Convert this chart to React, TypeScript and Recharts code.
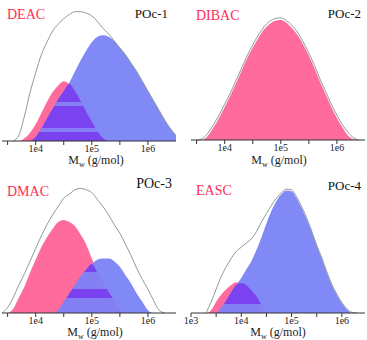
import { ComposedChart, Area, Line, XAxis, YAxis } from "recharts";

// log10(Mw) sample points
const LOG_A = [3.4, 3.5, 3.6, 3.7, 3.8, 3.9, 4.0, 4.1, 4.2, 4.3, 4.4, 4.5, 4.6, 4.7, 4.8, 4.9, 5.0, 5.1, 5.2, 5.3, 5.4, 5.5, 5.6, 5.7, 5.8, 5.9, 6.0, 6.1, 6.2, 6.3, 6.4, 6.5];
const LOG_B = [3.0, 3.1, 3.2, 3.3, 3.4, 3.5, 3.6, 3.7, 3.8, 3.9, 4.0, 4.1, 4.2, 4.3, 4.4, 4.5, 4.6, 4.7, 4.8, 4.9, 5.0, 5.1, 5.2, 5.3, 5.4, 5.5, 5.6, 5.7, 5.8, 5.9, 6.0, 6.1, 6.2, 6.3, 6.4];

// POc-1 (DEAC)
const grey1 = [null, null, 0, 4, 18, 35, 49, 62, 71, 79, 84, 88, 91, 93, 93, 92, 90, 86, 81, 77, 72, 67, 62, 56, 50, 43, 36, 29, 22, 15, 9, 4];
const pink1 = [0, 0, 0, 0, 2, 6, 12, 20, 28, 35, 40, 43, 41, 36, 29, 21, 14, 7, 2, 0, 0, 0, 0, 0, 0, 0, 0, 0, 0, 0, 0, 0];
const blue1 = [0, 0, 0, 0, 0, 0, 3, 9, 16, 23, 30, 36, 42, 50, 58, 65, 71, 75, 76, 75, 72, 67, 62, 56, 50, 43, 36, 29, 22, 15, 9, 4];

// POc-2 (DIBAC)
const grey2 = [null, 0, 1, 5, 11, 18, 26, 34, 43, 52, 61, 69, 76, 82, 86, 88, 88.5, 86.5, 83, 78, 71, 63, 54, 44, 35, 26, 18, 11, 5.5, 1.5, 0, null];
const pink2 = [0, 0, 0, 3, 9, 16, 24, 32, 41, 50, 59, 67, 74, 80, 84, 86.5, 87, 85, 81, 76, 69, 61, 52, 42, 33, 24, 16, 9, 3, 0.5, 0, 0];

// POc-3 (DMAC)
const grey3 = [0, 4, 11, 20, 28, 37, 46, 55, 63, 70, 76, 82, 85, 88, 89, 88, 86, 81, 76, 70, 63, 57, 49, 41, 32, 24, 17, 9, 2, 0, null, null];
const pink3 = [0, 0, 3, 11, 19, 29, 38, 47, 54, 60, 65, 66.5, 65, 62, 56, 49, 39, 29, 22, 15, 9, 3, 0, 0, 0, 0, 0, 0, 0, 0, 0, 0];
const blue3 = [0, 0, 0, 0, 0, 0, 0, 0, 0, 0, 2, 8, 14, 20, 26, 31, 35, 38, 39, 39, 37, 33, 27, 21, 14, 8, 2, 0, 0, 0, 0, 0];

// POc-4 (EASC)
const grey4 = [null, null, null, 0, 8, 17, 26, 33, 39, 44, 47, 50, 53, 58, 65, 71, 77, 82, 86, 88.5, 88, 83, 76, 68, 58.5, 48.5, 39.5, 29.5, 20.5, 13.5, 7.5, 3, 0.5, 0, null];
const pink4 = [0, 0, 0, 0, 2, 8, 13, 17, 20, 22, 21.5, 20, 16, 12, 6, 1, 0, 0, 0, 0, 0, 0, 0, 0, 0, 0, 0, 0, 0, 0, 0, 0, 0, 0, 0];
const blue4 = [0, 0, 0, 0, 0, 0, 4, 9, 15, 20, 25, 31, 37, 45, 54, 64, 73, 80, 85, 87.5, 87, 82, 75, 67, 58, 48, 39, 29, 20, 13, 7, 2.5, 0, 0, 0];

const TICKS_A = [10 ** 3.5, 1e4, 10 ** 4.5, 1e5, 10 ** 5.5, 1e6];
const TICKS_B = [1e3, 10 ** 3.5, 1e4, 10 ** 4.5, 1e5, 10 ** 5.5, 1e6];
const DOMAIN_A = [10 ** 3.4, 10 ** 6.5];
const DOMAIN_B = [1e3, 10 ** 6.46];

const SERIF = "'Liberation Serif', 'DejaVu Serif', serif";
const PINK = "#ff6b9d";
const BLUE = "#8089f5";
const VIOLET = "#7b42ef";
const LIGHT = "#8480f3";
const GREY = "#8c9c9c";
const RED = "#ff2d55";

// horizontal bands seen inside the overlap region, [from, to] as fraction of its height
const bands1 = [[0, 0.32], [0.39, 0.77], [0.84, 1]];
const bands3 = [[0, 0.17], [0.52, 0.69]];
const bands4 = [[0, 0.71]];

function buildRows(logs: number[], grey: (number | null)[], pink: number[], blue?: number[]) {
  return logs.map((lg, i) => ({
    m: Math.pow(10, lg),
    grey: grey[i],
    pink: pink[i],
    blue: blue ? blue[i] : null,
    both: blue ? Math.min(pink[i], blue[i]) : null,
  }));
}

const fmtTick = (v: number) => {
  const e = Math.log10(v);
  return Math.abs(e - Math.round(e)) < 0.01 ? `1e${Math.round(e)}` : "";
};

function Panel({ id, left, top, width, margin, axisH, domain, ticks, rows, bands }: any) {
  const stops: any[] = [];
  if (bands) {
    let prev = 0;
    bands.forEach(([a, b]: number[], i: number) => {
      stops.push(<stop key={`l${i}a`} offset={prev} stopColor={LIGHT} />);
      stops.push(<stop key={`l${i}b`} offset={a} stopColor={LIGHT} />);
      stops.push(<stop key={`v${i}a`} offset={a} stopColor={VIOLET} />);
      stops.push(<stop key={`v${i}b`} offset={b} stopColor={VIOLET} />);
      prev = b;
    });
    stops.push(<stop key="end1" offset={prev} stopColor={LIGHT} />);
    stops.push(<stop key="end2" offset={1} stopColor={LIGHT} />);
  }
  return (
    <div style={{ position: "absolute", left, top }}>
      <ComposedChart width={width} height={170} data={rows} margin={margin}>
        <defs>
          <linearGradient id={`ov${id}`} x1="0" y1="0" x2="0" y2="1">
            {stops}
          </linearGradient>
        </defs>
        <XAxis
          dataKey="m"
          type="number"
          scale="log"
          domain={domain}
          allowDataOverflow
          ticks={ticks}
          interval={0}
          tickFormatter={fmtTick}
          height={axisH}
          tickSize={4}
          tickMargin={0}
          stroke="#333"
          tick={{ fontSize: 10, fill: "#222", fontFamily: SERIF, style: { fontFamily: SERIF } }}
        />
        <XAxis
          xAxisId="top"
          orientation="top"
          dataKey="m"
          type="number"
          scale="log"
          domain={domain}
          allowDataOverflow
          height={0}
          tick={false}
          tickLine={false}
          stroke="#666"
        />
        <YAxis domain={[0, 100]} width={0} tick={false} tickLine={false} stroke="#666" />
        <YAxis yAxisId="r" orientation="right" domain={[0, 100]} width={0} tick={false} tickLine={false} stroke="#666" />
        <Area dataKey="pink" type="monotone" fill={PINK} fillOpacity={1} stroke="none" isAnimationActive={false} />
        {bands && (
          <Area dataKey="blue" type="monotone" fill={BLUE} fillOpacity={1} stroke="none" isAnimationActive={false} />
        )}
        {bands && (
          <Area dataKey="both" type="monotone" fill={`url(#ov${id})`} fillOpacity={1} stroke="none" isAnimationActive={false} />
        )}
        <Line dataKey="grey" type="monotone" stroke={GREY} strokeWidth={1} dot={false} isAnimationActive={false} />
      </ComposedChart>
    </div>
  );
}

const txt = { fontFamily: SERIF };

function Title({ x, y }: { x: number; y: number }) {
  return (
    <text x={x} y={y} textAnchor="middle" fontSize={12} fill="#222" style={txt}>
      M<tspan fontSize={8} dy={3}>w</tspan>
      <tspan dy={-3}> (g/mol)</tspan>
    </text>
  );
}

export default function App() {
  const rows1 = buildRows(LOG_A, grey1, pink1, blue1);
  const rows2 = buildRows(LOG_A, grey2, pink2);
  const rows3 = buildRows(LOG_A, grey3, pink3, blue3);
  const rows4 = buildRows(LOG_B, grey4, pink4, blue4);

  return (
    <div style={{ position: "absolute", left: 0, top: 0, width: 367, height: 340, background: "#fff", fontFamily: SERIF }}>
      <Panel id={1} left={0} top={0} width={183} margin={{ top: 2, right: 7, bottom: 0, left: 2 }} axisH={29} domain={DOMAIN_A} ticks={TICKS_A} rows={rows1} bands={bands1} />
      <Panel id={2} left={183} top={0} width={184} margin={{ top: 2, right: 2, bottom: 0, left: 8 }} axisH={30} domain={DOMAIN_A} ticks={TICKS_A} rows={rows2} />
      <Panel id={3} left={0} top={170} width={183} margin={{ top: 3, right: 7, bottom: 0, left: 2 }} axisH={27} domain={DOMAIN_A} ticks={TICKS_A} rows={rows3} bands={bands3} />
      <Panel id={4} left={183} top={170} width={184} margin={{ top: 3, right: 2, bottom: 0, left: 8 }} axisH={27} domain={DOMAIN_B} ticks={TICKS_B} rows={rows4} bands={bands4} />
      <svg width={367} height={340} style={{ position: "absolute", left: 0, top: 0, pointerEvents: "none" }}>
        <text x={7} y={19} fontSize={14} fill={RED} style={txt}>DEAC</text>
        <text x={168} y={18} fontSize={13} fill="#111" textAnchor="end" style={txt}>POc-1</text>
        <text x={196} y={20} fontSize={14} fill={RED} style={txt}>DIBAC</text>
        <text x={361} y={18} fontSize={13} fill="#111" textAnchor="end" style={txt}>POc-2</text>
        <text x={7} y={196} fontSize={14} fill={RED} style={txt}>DMAC</text>
        <text x={172} y={188} fontSize={14} fill="#111" textAnchor="end" style={txt}>POc-3</text>
        <text x={196} y={195} fontSize={14} fill={RED} style={txt}>EASC</text>
        <text x={361} y={190} fontSize={13} fill="#111" textAnchor="end" style={txt}>POc-4</text>
        <Title x={96} y={164} />
        <Title x={279} y={164} />
        <Title x={95} y={336} />
        <Title x={278} y={336} />
      </svg>
    </div>
  );
}
